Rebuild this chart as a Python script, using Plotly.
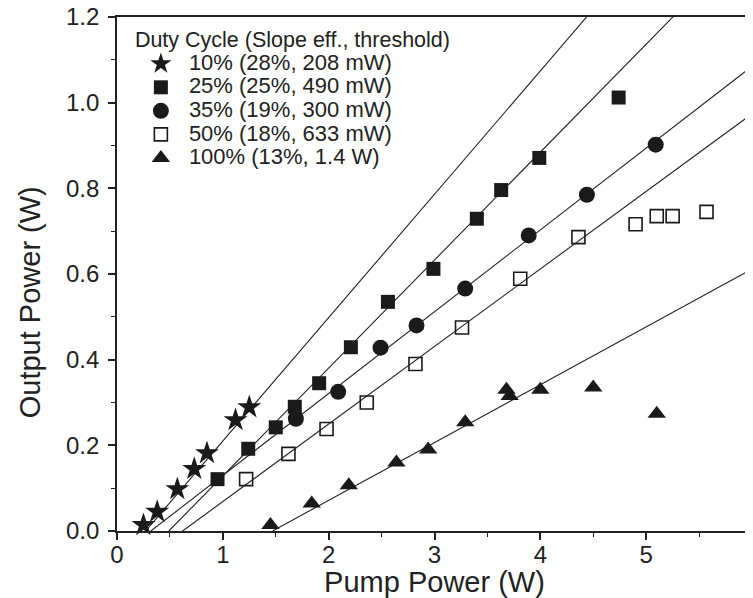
import plotly.graph_objects as go

# ---------------- data ----------------
series_names = [
    "10% (28%, 208 mW)",
    "25% (25%, 490 mW)",
    "35% (19%, 300 mW)",
    "50% (18%, 633 mW)",
    "100% (13%, 1.4 W)",
]

x_10 = [0.25, 0.38, 0.57, 0.73, 0.85, 1.12, 1.25]
y_10 = [0.014, 0.045, 0.098, 0.145, 0.182, 0.259, 0.289]

x_25 = [0.95, 1.24, 1.50, 1.68, 1.91, 2.21, 2.56, 2.99, 3.40, 3.63, 3.99, 4.74]
y_25 = [0.121, 0.192, 0.242, 0.290, 0.345, 0.429, 0.535, 0.612, 0.729, 0.796, 0.871, 1.012]

x_35 = [1.69, 2.09, 2.49, 2.83, 3.29, 3.89, 4.44, 5.09]
y_35 = [0.262, 0.325, 0.428, 0.480, 0.566, 0.690, 0.785, 0.902]

x_50 = [1.22, 1.62, 1.98, 2.36, 2.82, 3.26, 3.81, 4.36, 4.90, 5.10, 5.25, 5.57]
y_50 = [0.121, 0.180, 0.238, 0.300, 0.390, 0.475, 0.589, 0.686, 0.716, 0.735, 0.735, 0.745]

x_100 = [1.45, 1.84, 2.19, 2.64, 2.94, 3.29, 3.68, 3.71, 4.00, 4.50, 5.10]
y_100 = [0.014, 0.064, 0.107, 0.160, 0.190, 0.254, 0.330, 0.315, 0.330, 0.335, 0.274]

# linear fits: y = slope * (x - threshold)
fit_slope = [0.288, 0.252, 0.191, 0.181, 0.135]
fit_threshold = [0.27, 0.49, 0.32, 0.62, 1.47]

x_max = 6.0
x_ticks = [0, 1, 2, 3, 4, 5, 6]
y_ticks = [0.0, 0.2, 0.4, 0.6, 0.8, 1.0, 1.2]

x_title = "Pump Power (W)"
y_title = "Output Power (W)"
legend_title = "Duty Cycle (Slope eff., threshold)"

# ---------------- styling ----------------
FONT = "Liberation Sans, Arial, sans-serif"
INK = "#1a1a1a"
xs = [x_10, x_25, x_35, x_50, x_100]
ys = [y_10, y_25, y_35, y_50, y_100]
symbols = ["star", "square", "circle", "square-open", "triangle-up"]
sizes = [18, 14, 16, 13, 16]

fig = go.Figure()

# fit lines
for s, t in zip(fit_slope, fit_threshold):
    lx = [t, x_max]
    ly = [s * (v - t) for v in lx]
    fig.add_trace(go.Scatter(x=lx, y=ly, mode="lines",
                             line=dict(color="#222222", width=1.1),
                             showlegend=False, hoverinfo="skip"))

# data points
for name, x, y, sym, sz in zip(series_names, xs, ys, symbols, sizes):
    fig.add_trace(go.Scatter(
        x=x, y=y, mode="markers",
        name=f'<span style="font-size:22px">{name}</span>',
        marker=dict(symbol=sym, size=sz, color=INK,
                    line=dict(color=INK, width=1.6 if "open" in sym else 0)),
        cliponaxis=False,
    ))

axis_common = dict(
    showgrid=False, zeroline=False, showline=True, mirror=True,
    linecolor="#222222", linewidth=1.8,
    ticks="outside", ticklen=7, tickwidth=1.5, tickcolor="#222222",
    tickfont=dict(family=FONT, size=24, color="#222222"),
    ticklabeloverflow="allow",
    automargin=False,
)

fig.update_xaxes(
    range=[0, x_max], tickvals=x_ticks, ticktext=[str(v) for v in x_ticks],
    minor=dict(dtick=0.5, ticks="outside", ticklen=4, tickwidth=1.3, tickcolor="#222222"),
    title=dict(text=x_title, font=dict(family=FONT, size=29, color="#222222"), standoff=0),
    ticklabelstandoff=-6,
    **axis_common,
)
fig.update_yaxes(
    range=[0, 1.2], tickvals=y_ticks, ticktext=[f"{v:.1f}" for v in y_ticks],
    minor=dict(dtick=0.1, ticks="outside", ticklen=4, tickwidth=1.3, tickcolor="#222222"),
    ticklabelstandoff=4,
    **axis_common,
)

# y-axis title sits a little below the axis centre in the reference
fig.add_annotation(
    text=y_title, textangle=-90, showarrow=False,
    xref="paper", yref="paper", x=-0.137, y=0.445,
    xanchor="center", yanchor="middle",
    font=dict(family=FONT, size=29, color="#222222"),
)

# page body has an 8px margin: figure is sized/placed so the plot frame lands
# where the reference has it
fig.update_layout(
    width=745, height=590,
    margin=dict(l=109, r=1, t=9, b=67),
    paper_bgcolor="white", plot_bgcolor="white",
    font=dict(family=FONT, color="#222222"),
    legend=dict(
        title=dict(text=legend_title,
                   font=dict(family=FONT, size=21.5, color="#222222")),
        font=dict(family=FONT, size=15.8, color="#222222"),
        x=0.025, y=0.996, xanchor="left", yanchor="top",
        bgcolor="rgba(0,0,0,0)", borderwidth=0,
        itemsizing="trace", itemwidth=46, tracegroupgap=0,
    ),
)

fig.write_html("out.html")
